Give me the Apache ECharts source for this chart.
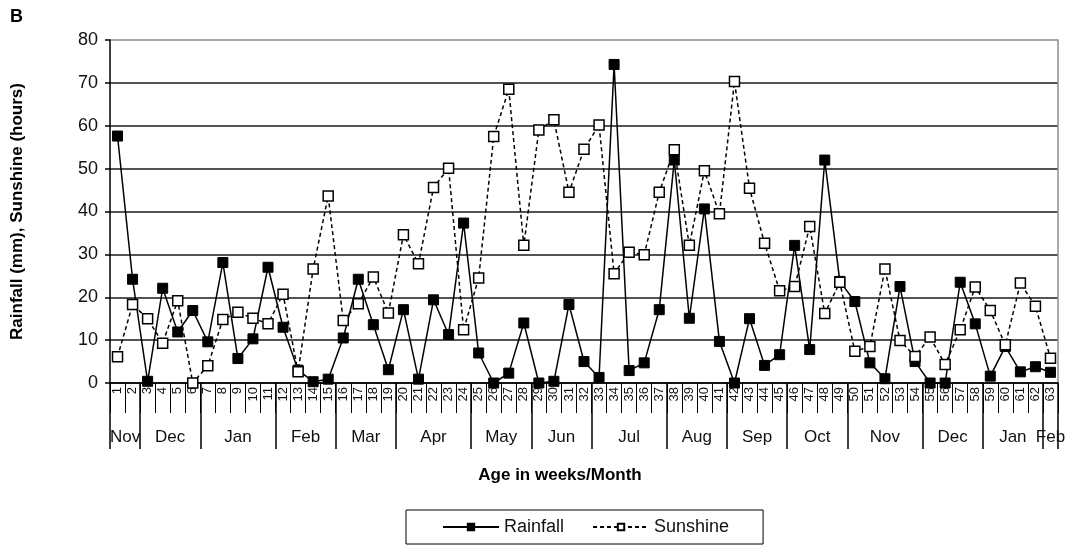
<!DOCTYPE html>
<html>
<head>
<meta charset="utf-8">
<style>
html,body{margin:0;padding:0;background:#fff;}
#chart{width:1070px;height:547px;}
</style>
<script src="https://cdn.jsdelivr.net/npm/echarts@6/dist/echarts.min.js"></script>
</head>
<body>
<div id="chart"></div>
<script>
var weeks = ['1','2','3','4','5','6','7','8','9','10','11','12','13','14','15','16','17','18','19','20','21','22','23','24','25','26','27','28','29','30','31','32','33','34','35','36','37','38','39','40','41','42','43','44','45','46','47','48','49','50','51','52','53','54','55','56','57','58','59','60','61','62','63'];
var rainfall = [57.6,24.2,0.4,22.1,11.9,16.9,9.6,28.1,5.7,10.3,27.0,13.0,3.0,0.3,0.9,10.5,24.2,13.6,3.1,17.1,0.9,19.4,11.3,37.3,7.0,0,2.3,14.0,0,0.4,18.3,5.0,1.3,74.3,2.9,4.7,17.1,52.0,15.1,40.6,9.7,0,15.0,4.1,6.6,32.1,7.8,52.0,23.7,19.0,4.7,1.0,22.5,5.0,0,0,23.5,13.8,1.6,8.5,2.6,3.8,2.5];
var sunshine = [6.1,18.3,15.0,9.3,19.2,0,4.0,14.8,16.5,15.1,13.8,20.7,2.6,26.6,43.6,14.6,18.5,24.7,16.3,34.6,27.8,45.6,50.1,12.4,24.5,57.5,68.5,32.1,59.0,61.4,44.5,54.5,60.2,25.5,30.5,29.9,44.5,54.4,32.1,49.5,39.5,70.3,45.4,32.6,21.5,22.5,36.5,16.2,23.5,7.4,8.5,26.6,9.9,6.2,10.7,4.3,12.4,22.4,16.9,8.9,23.3,17.9,5.8];
var months = ['Nov','Dec','Jan','Feb','Mar','Apr','May','Jun','Jul','Aug','Sep','Oct','Nov','Dec','Jan','Feb'];
// month boundaries, in weeks (month k spans monthBounds[k]..monthBounds[k+1])
var monthBounds = [0,2,6,11,15,19,24,28,32,37,41,45,49,54,58,62,63];
var yTicks = [0,10,20,30,40,50,60,70,80];

var monthMids = [];
for (var i = 0; i < months.length; i++) monthMids.push((monthBounds[i] + monthBounds[i+1]) / 2);

var FONT = 'Liberation Sans, Arial, sans-serif';
var chart = echarts.init(document.getElementById('chart'), null, {renderer: 'canvas'});

var splitColors = yTicks.map(function (v) { return v === 80 ? '#8c8c8c' : '#1a1a1a'; });

chart.setOption({
  animation: false,
  backgroundColor: '#fff',
  textStyle: {fontFamily: FONT},
  grid: {left: 110, right: 12, top: 40, bottom: 164, containLabel: false},
  legend: {
    data: ['Rainfall', 'Sunshine'],
    left: 406, top: 510,
    padding: [8, 34, 8, 36],
    itemWidth: 56, itemHeight: 8, itemGap: 28,
    borderColor: '#000', borderWidth: 1,
    textStyle: {fontSize: 18, color: '#111', fontFamily: FONT}
  },
  graphic: [
    {type: 'text', left: 10, top: 8, style: {text: 'B', fontSize: 18, fontWeight: 'bold', fill: '#000', fontFamily: FONT}},
    {type: 'text', x: 560, y: 475, style: {text: 'Age in weeks/Month', fontSize: 17, fontWeight: 'bold', fill: '#000', fontFamily: FONT, align: 'center', verticalAlign: 'middle'}}
  ],
  xAxis: [
    {
      type: 'category', data: weeks, boundaryGap: true, position: 'bottom',
      axisLine: {show: true, lineStyle: {color: '#000', width: 1.5}},
      axisTick: {show: true, interval: 0, length: 30, lineStyle: {color: '#000', width: 1}},
      axisLabel: {interval: 0, rotate: 90, margin: 4, fontSize: 13, color: '#111', fontFamily: FONT},
      splitLine: {show: false}
    },
    {
      type: 'value', min: 0, max: 63, position: 'bottom',
      axisLine: {show: false},
      splitLine: {show: false},
      axisTick: {show: true, customValues: monthBounds, length: 66, lineStyle: {color: '#000', width: 1.5}},
      axisLabel: {
        show: true, customValues: monthMids, margin: 46, fontSize: 17, color: '#111', fontFamily: FONT,
        formatter: function (v) {
          for (var i = 0; i < monthMids.length; i++) if (Math.abs(monthMids[i] - v) < 1e-6) return months[i];
          return '';
        }
      }
    }
  ],
  yAxis: [
    {
      type: 'value', min: 0, max: 80, interval: 10,
      name: 'Rainfall (mm), Sunshine (hours)', nameLocation: 'middle', nameGap: 84,
      nameTextStyle: {fontSize: 17, fontWeight: 'bold', color: '#000', fontFamily: FONT},
      axisLine: {show: true, lineStyle: {color: '#000', width: 1.5}},
      axisTick: {show: true, length: 5, lineStyle: {color: '#000', width: 1.5}},
      axisLabel: {margin: 12, fontSize: 18, color: '#111', fontFamily: FONT},
      splitLine: {show: true, lineStyle: {color: splitColors, width: 1.5}}
    },
    {
      type: 'value', min: 0, max: 80, interval: 10, position: 'right',
      axisLine: {show: true, lineStyle: {color: '#8c8c8c', width: 1.5}},
      axisTick: {show: false}, axisLabel: {show: false}, splitLine: {show: false}
    }
  ],
  series: [
    {
      name: 'Rainfall', type: 'line', data: rainfall, xAxisIndex: 0, yAxisIndex: 0,
      symbol: 'rect', symbolSize: 10, clip: false,
      lineStyle: {color: '#000', width: 1.5},
      itemStyle: {color: '#000', borderColor: '#000', borderWidth: 1}
    },
    {
      name: 'Sunshine', type: 'line', data: sunshine, xAxisIndex: 0, yAxisIndex: 0,
      symbol: 'rect', symbolSize: 10, clip: false,
      lineStyle: {color: '#000', width: 1.5, type: [4, 3]},
      itemStyle: {color: '#fff', borderColor: '#000', borderWidth: 1.5}
    }
  ]
});
</script>
</body>
</html>
